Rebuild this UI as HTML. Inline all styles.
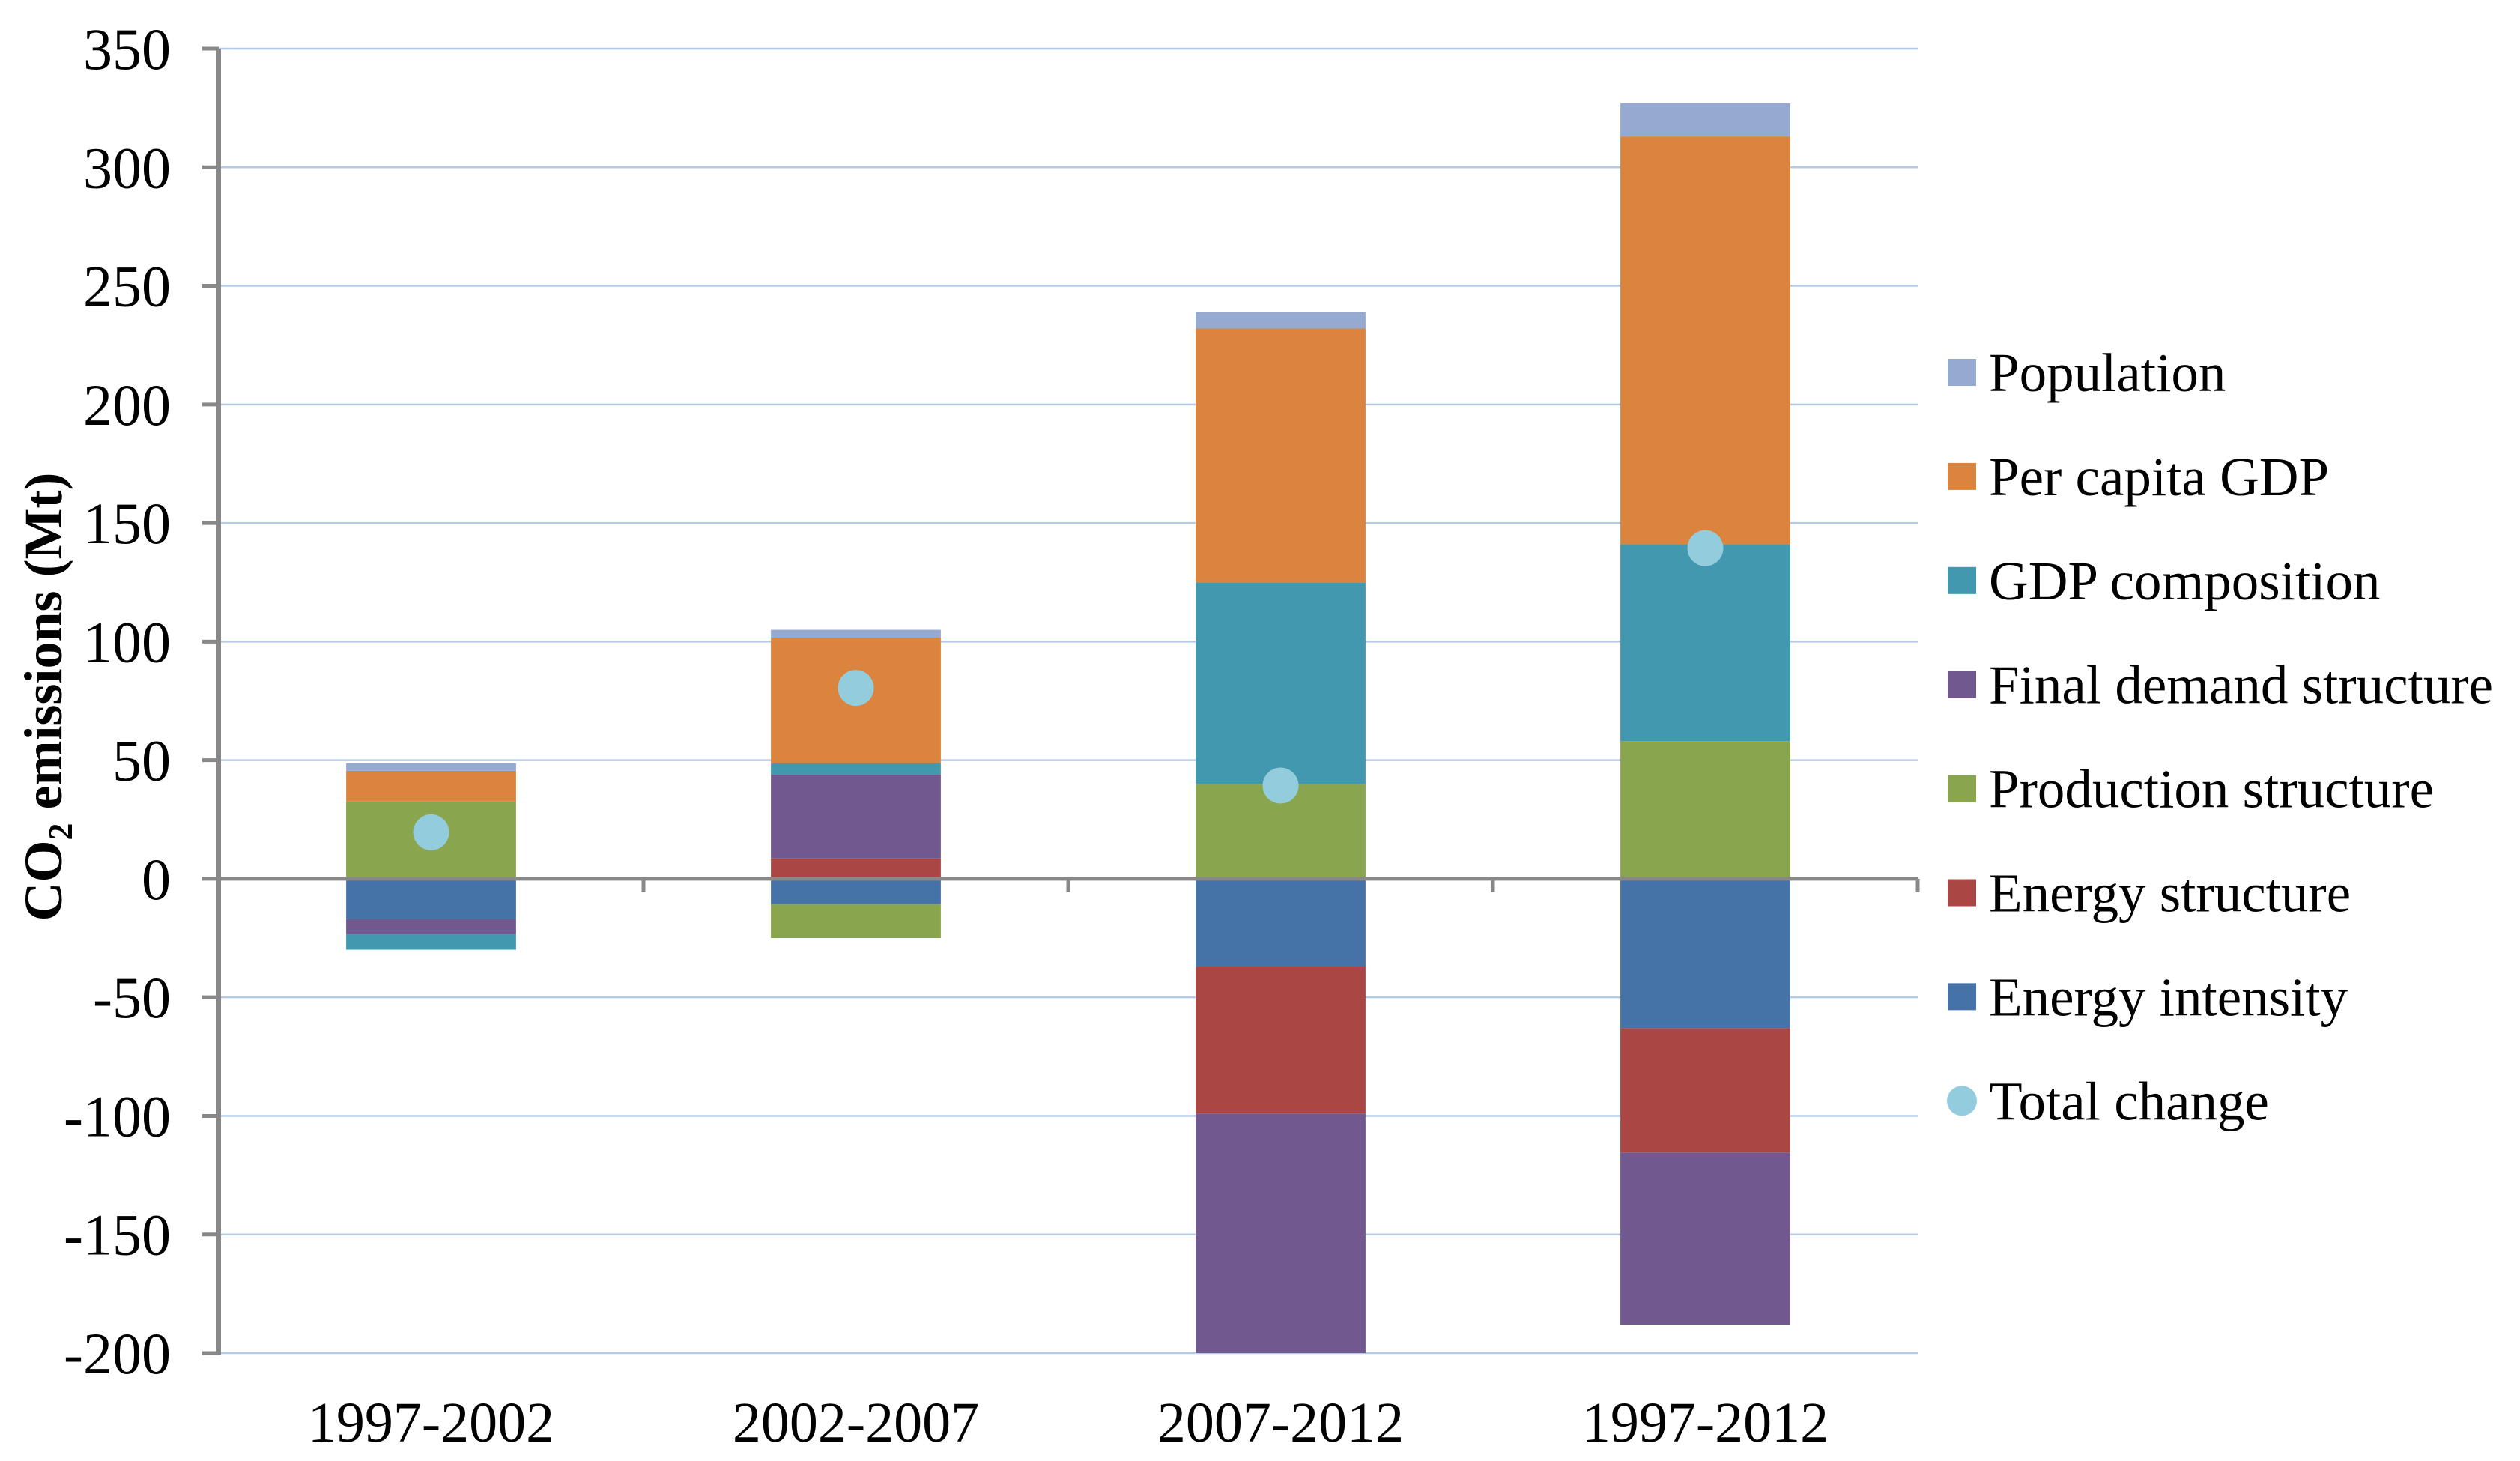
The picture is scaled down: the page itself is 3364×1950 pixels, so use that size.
<!DOCTYPE html>
<html><head><meta charset="utf-8"><style>
html,body{margin:0;padding:0;background:#fff;}
svg{display:block;font-family:"Liberation Serif",serif;}
</style></head><body>
<svg id="chart" width="3364" height="1950" viewBox="0 0 3364 1950" xmlns="http://www.w3.org/2000/svg">
<g id="grid"></g>
<g id="bars"></g>
<g id="axes"></g>
<g id="dots"></g>
<g id="legend"></g>
<text transform="translate(82,930) rotate(-90)" text-anchor="middle" font-size="72" font-weight="bold" fill="#000">CO<tspan font-size="46" dy="14">2</tspan><tspan dy="-14"> emissions (Mt)</tspan></text>
</svg>
<script>
const categories = ["1997-2002", "2002-2007", "2007-2012", "1997-2012"];
const seriesNames = ["Energy intensity", "Energy structure", "Production structure", "Final demand structure", "GDP composition", "Per capita GDP", "Population"];
const energyIntensity = [-17, -10.6, -37, -63];
const energyStructure = [0, 8.6, -62, -52.4];
const productionStructure = [32.6, -14.4, 40, 58];
const finalDemand = [-6.3, 35.4, -101, -72.6];
const gdpComposition = [-6.6, 4.7, 85, 83];
const perCapitaGdp = [12.9, 53, 107, 172];
const population = [3.2, 3.3, 7, 14];
const totalChange = [19.6, 80.5, 39.3, 139.4];
const yTicks = [350, 300, 250, 200, 150, 100, 50, 0, -50, -100, -150, -200];
const seriesColors = ["#4572a7", "#aa4643", "#89a54e", "#71588f", "#4298af", "#db843d", "#95a9d1"];
const legendOrder = [6, 5, 4, 3, 2, 1, 0];

const NS = "http://www.w3.org/2000/svg";
const X0 = 292, X1 = 2560, Y_TOP = 65, Y_BOT = 1806, VMAX = 350, VMIN = -200;
function yScale(v) { return Y_TOP + (VMAX - v) / (VMAX - VMIN) * (Y_BOT - Y_TOP); }
const bandW = (X1 - X0) / categories.length;
function xCenter(i) { return X0 + bandW * (i + 0.5); }
const barW = bandW * 0.4;
function mk(tag, attrs, parent) {
  const el = document.createElementNS(NS, tag);
  for (const k in attrs) el.setAttribute(k, attrs[k]);
  parent.appendChild(el);
  return el;
}
const grid = document.getElementById('grid'), bars = document.getElementById('bars'),
      axes = document.getElementById('axes'), dots = document.getElementById('dots'),
      legend = document.getElementById('legend');

yTicks.forEach(t => {
  const y = yScale(t);
  if (t !== 0) {
    const g = mk('line', {x1: X0, x2: X1, y1: y, y2: y, stroke: '#b4cbe8', 'stroke-width': 2.5}, grid);
    
    
  }
  const tk = mk('line', {x1: X0 - 22, x2: X0, y1: y, y2: y, stroke: '#888', 'stroke-width': 5}, axes);
  
  
  const lb = mk('text', {x: 228, y: y + 27, 'text-anchor': 'end', 'font-size': 78, fill: '#000'}, axes);
  lb.textContent = String(t);
  
  
});

const series = [energyIntensity, energyStructure, productionStructure, finalDemand, gdpComposition, perCapitaGdp, population];
categories.forEach((c, i) => {
  let pos = 0, neg = 0;
  series.forEach((s, k) => {
    const v = s[i];
    if (!v) return;
    let a, b;
    if (v > 0) { a = pos; b = pos + v; pos = b; } else { a = neg; b = neg + v; neg = b; }
    const yT = yScale(Math.max(a, b)), yB = yScale(Math.min(a, b));
    const r = mk('rect', {x: xCenter(i) - barW / 2, y: yT, width: barW, height: yB - yT, fill: seriesColors[k]}, bars);
    
    
  });
  const d = mk('circle', {cx: xCenter(i), cy: yScale(totalChange[i]), r: 24, fill: '#93cddd'}, dots);
  
  
  const xl = mk('text', {x: xCenter(i), y: 1924, 'text-anchor': 'middle', 'font-size': 76, fill: '#000'}, axes);
  xl.textContent = c;
  
  
});

const ya = mk('line', {x1: X0, x2: X0, y1: Y_TOP, y2: Y_BOT + 2, stroke: '#888', 'stroke-width': 6}, axes);


const y0 = yScale(0);
const xa = mk('line', {x1: X0, x2: X1, y1: y0, y2: y0, stroke: '#888', 'stroke-width': 5}, axes);


for (let i = 1; i <= categories.length; i++) {
  const x = X0 + bandW * i;
  const t = mk('line', {x1: x, x2: x, y1: y0, y2: y0 + 18, stroke: '#888', 'stroke-width': 5}, axes);
  
  
}

const LEG_Y0 = 497, LEG_DY = 138.9;
legendOrder.forEach((k, j) => {
  const cy = LEG_Y0 + j * LEG_DY;
  const sw = mk('rect', {x: 2600, y: cy - 18, width: 38, height: 36, fill: seriesColors[k]}, legend);
  
  
  const tx = mk('text', {x: 2655, y: cy + 25, 'font-size': 73, fill: '#000'}, legend);
  tx.textContent = seriesNames[k];
  
  
});
const cyT = LEG_Y0 + 7 * LEG_DY;
const ld = mk('circle', {cx: 2619, cy: cyT, r: 20, fill: '#93cddd'}, legend);


const lt = mk('text', {x: 2655, y: cyT + 25, 'font-size': 73, fill: '#000'}, legend);
lt.textContent = "Total change";


</script>
</body></html>
